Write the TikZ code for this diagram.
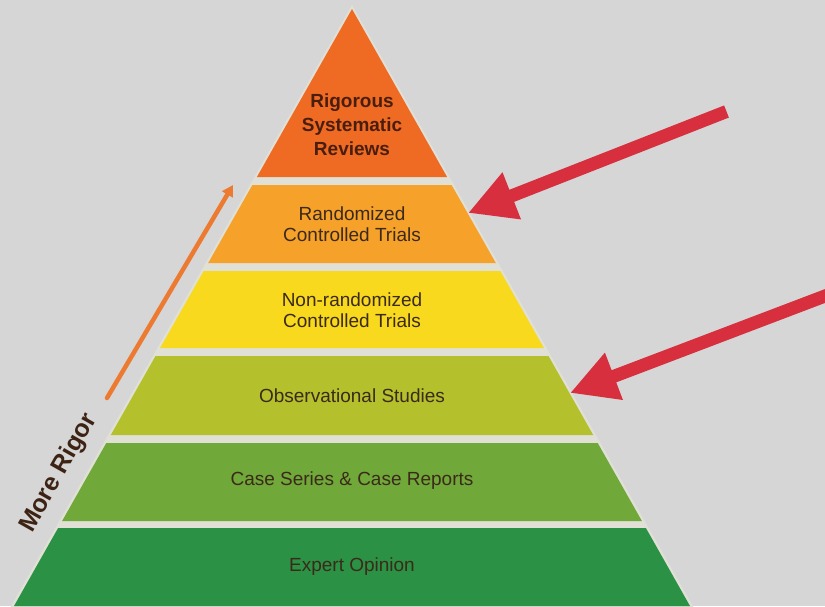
\documentclass[tikz,border=0pt]{standalone}
\usepackage{fontspec}
\setmainfont{Liberation Sans}
\usetikzlibrary{arrows.meta}
\definecolor{bg}{HTML}{D6D6D6}
\definecolor{gapc}{HTML}{E0E0D6}
\definecolor{bandA}{HTML}{EF6B24}
\definecolor{bandB}{HTML}{F5A12A}
\definecolor{bandC}{HTML}{F8D91E}
\definecolor{bandD}{HTML}{B4C12C}
\definecolor{bandE}{HTML}{70A83A}
\definecolor{bandF}{HTML}{2B9145}
\definecolor{txt}{HTML}{3B2A1A}
\definecolor{toptxt}{HTML}{4A1E0E}
\definecolor{redarrow}{HTML}{D72F3E}
\definecolor{orangearrow}{HTML}{EC7B31}
\definecolor{rigor}{HTML}{3D2314}
\begin{document}
\begin{tikzpicture}[x=1pt,y=-1pt,
  lbl/.style={inner sep=0pt, align=center, text=txt, font=\fontsize{19}{21}\selectfont},
  toplbl/.style={inner sep=0pt, align=center, text=toptxt, font=\bfseries\fontsize{19}{24}\selectfont},
  redarr/.style={draw=redarrow, line width=13pt, -{Triangle[length=47pt,width=47pt]}},
]
\useasboundingbox (0,0) rectangle (825,606);
\clip (0,0) rectangle (825,606);
\fill[bg] (0,0) rectangle (825,606);
% light backing (gaps)
\fill[gapc] (352,5) -- (694,608) -- (10,608) -- cycle;
% bands
\fill[bandA] (352,9) -- (447.1,177) -- (256.9,177) -- cycle;
\fill[bandB] (252.4,185) -- (451.6,185) -- (495.8,263) -- (208.2,263) -- cycle;
\fill[bandC] (203.7,271) -- (500.3,271) -- (543.9,348) -- (160.1,348) -- cycle;
\fill[bandD] (155.5,356) -- (548.5,356) -- (593.2,435) -- (110.8,435) -- cycle;
\fill[bandE] (106.3,443) -- (597.7,443) -- (641.9,521) -- (62.1,521) -- cycle;
\fill[bandF] (58.1,528) -- (645.9,528) -- (690,606) -- (14,606) -- cycle;
% labels
\node[toplbl] (t1) at (352,125) {Rigorous\\Systematic\\Reviews};
\node[lbl] (t2) at (352,224.5) {Randomized\\Controlled Trials};
\node[lbl] (t3) at (352,310) {Non-randomized\\Controlled Trials};
\node[lbl] (t4) at (352,396) {Observational Studies};
\node[lbl] (t5) at (352,481) {Case Series \& Case Reports};
\node[lbl] (t6) at (352,567) {Expert Opinion};
% more rigor
\node[inner sep=0pt, rotate=60.5, text=rigor, font=\bfseries\fontsize{25}{30}\selectfont] (mr) at (59,473) {More Rigor};
\coordinate (oa) at (107,398);
\coordinate (ob) at (233,185);
\draw[orangearrow, line width=4.5pt, line cap=round, -{Triangle[length=11pt,width=12pt]}] (oa) -- (ob);
% red arrows
\coordinate (r1s) at (726.5,111.5);
\coordinate (r1e) at (468,213);
\coordinate (r2s) at (850,286.5);
\coordinate (r2e) at (570,393);
\draw[redarr] (r1s) -- (r1e);
\draw[redarr] (r2s) -- (r2e);
\end{tikzpicture}
\end{document}
